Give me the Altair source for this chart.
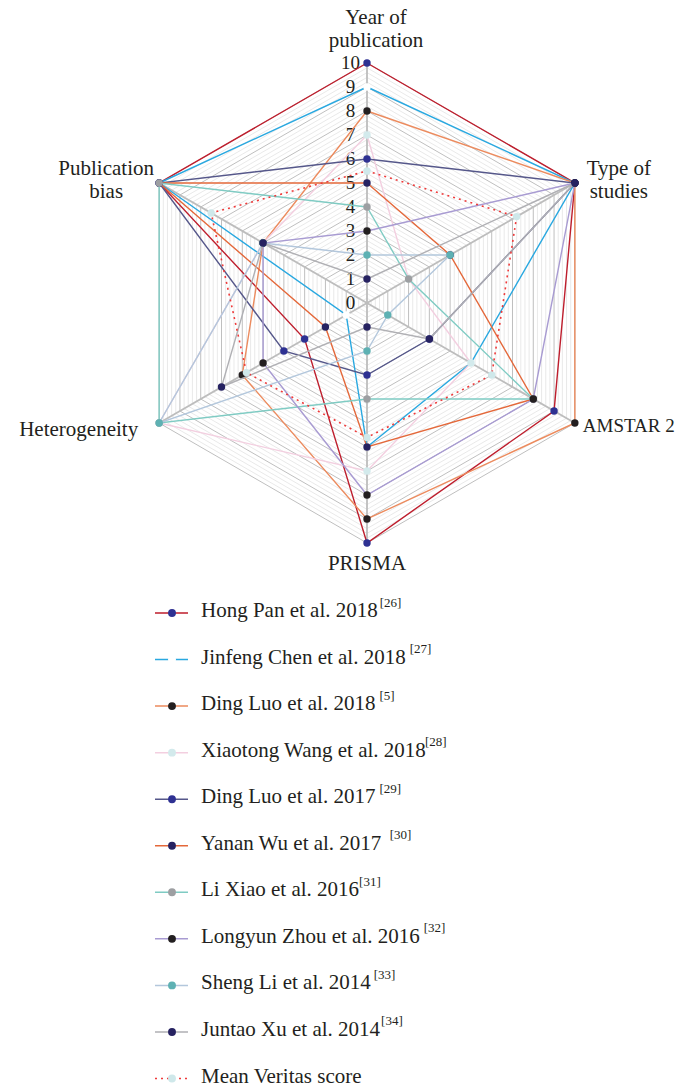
import altair as alt
import pandas as pd

# ---------------- data ----------------
AXIS_LABELS = ["Year of\npublication", "Type of\nstudies", "AMSTAR 2", "PRISMA",
               "Heterogeneity", "Publication\nbias"]
STUDIES = ["Hong Pan et al. 2018", "Jinfeng Chen et al. 2018", "Ding Luo et al. 2018",
           "Xiaotong Wang et al. 2018", "Ding Luo et al. 2017", "Yanan Wu et al. 2017",
           "Li Xiao et al. 2016", "Longyun Zhou et al. 2016", "Sheng Li et al. 2014",
           "Juntao Xu et al. 2014", "Mean Veritas score"]
REFS = ["26", "27", "5", "28", "29", "30", "31", "32", "33", "34", ""]

# values per axis: Year, Type, AMSTAR 2, PRISMA, Heterogeneity, Publication bias
HONG_PAN = [10, 10, 9, 10, 3, 10]
JINFENG_CHEN = [9, 10, 5, 6, 1, 10]
DING_LUO_2018 = [8, 10, 10, 9, 6, 5]
XIAOTONG_WANG = [7, 2, 5, 7, 10, 5]
DING_LUO_2017 = [6, 10, 3, 3, 4, 10]
YANAN_WU = [5, 4, 8, 6, 2, 10]
LI_XIAO = [4, 2, 8, 4, 10, 10]
LONGYUN_ZHOU = [3, 10, 8, 8, 5, 5]
SHENG_LI = [2, 4, 1, 2, 10, 5]
JUNTAO_XU = [1, 10, 3, 1, 7, 5]
MEAN_VERITAS = [5.5, 7.2, 6.0, 5.6, 5.8, 7.5]
SERIES = [HONG_PAN, JINFENG_CHEN, DING_LUO_2018, XIAOTONG_WANG, DING_LUO_2017, YANAN_WU,
          LI_XIAO, LONGYUN_ZHOU, SHENG_LI, JUNTAO_XU, MEAN_VERITAS]
TICKS = list(range(0, 11))

# ---------------- styles ----------------
LINE_COLORS = ["#be1e2d", "#29a8e0", "#ec8b5e", "#f3cfe0", "#55578a", "#e4683a",
               "#7fcbc3", "#a89bd2", "#b3c7dc", "#b0b0b4", "#ee3a3a"]
MARKER_COLORS = ["#2e3192", "#ffffff", "#231f20", "#d3eaec", "#2e3192", "#262261",
                 "#9d9fa2", "#231f20", "#5eb1b3", "#262261", "#cfe8ea"]
SUP_GAP = [2, 4, 4, -3, 4, 5, 0, 4, 3, 1, 0]   # extra spacing before superscripts (px)
FONT = "Liberation Serif"
TEXT_COLOR = "#231f20"
W, H = 670, 1075
CX, CY, UNIT = 359, 295, 24.0      # centre of the radar in plot pixels, px per unit
ROW0, ROWSTEP = 605, 46.55         # legend rows in plot pixels

LABEL_STYLE = [
    dict(align="center", dx=9, dy=-39.5, fontSize=21),
    dict(align="center", dx=44, dy=-8, fontSize=21),
    dict(align="left", dx=8, dy=9, fontSize=19),
    dict(align="center", dx=0, dy=27, fontSize=21),
    dict(align="right", dx=-21, dy=13, fontSize=21),
    dict(align="center", dx=-53, dy=-8, fontSize=21),
]

xs = alt.Scale(domain=[-CX / UNIT, (W - CX) / UNIT], nice=False, zero=False)
ys = alt.Scale(domain=[(CY - H) / UNIT, CY / UNIT], nice=False, zero=False)
X = alt.X("x:Q", scale=xs, axis=None)
Y = alt.Y("y:Q", scale=ys, axis=None)

def polar(chart, r="value"):
    return chart.transform_calculate(
        x=f"datum.{r} * sin(datum.k * PI / 3)",
        y=f"datum.{r} * cos(datum.k * PI / 3)",
    )

# ---------------- grid ----------------
grid_rows = []
for i in range(1, 51):
    lev = round(i * 0.2, 2)
    for k in range(7):
        grid_rows.append(dict(level=lev, major=abs(lev - round(lev)) < 1e-9, k=k, value=lev))
grid_df = pd.DataFrame(grid_rows)

grid_minor = polar(alt.Chart(grid_df).transform_filter("!datum.major")).mark_line(
    color="#dadada", strokeWidth=0.6).encode(x=X, y=Y, detail="level:N", order="k:Q")
grid_major = polar(alt.Chart(grid_df).transform_filter("datum.major")).mark_line(
    color="#bfbfbf", strokeWidth=1).encode(x=X, y=Y, detail="level:N", order="k:Q")

spoke_df = pd.DataFrame({"k": list(range(6)), "value": [10] * 6})
spokes = alt.Chart(spoke_df).transform_calculate(
    x0="0", y0="0",
    x="datum.value * sin(datum.k * PI / 3)",
    y="datum.value * cos(datum.k * PI / 3)",
).mark_rule(color="#bdbdbd", strokeWidth=1.8).encode(
    x=alt.X("x0:Q", scale=xs, axis=None), y=alt.Y("y0:Q", scale=ys, axis=None),
    x2="x:Q", y2="y:Q")

tick_df = pd.DataFrame({"t": TICKS})
ticks = alt.Chart(tick_df).transform_calculate(x="0", y="datum.t", lab="'' + datum.t").mark_text(
    align="center", baseline="middle", dx=-16.5, fontSize=19, font=FONT, color=TEXT_COLOR
).encode(x=X, y=Y, text="lab:N")

layers = [grid_minor, grid_major, spokes, ticks]

# ---------------- series ----------------
rows = []
for s, (name, vals) in enumerate(zip(STUDIES, SERIES)):
    for k in range(7):
        rows.append(dict(series=name, s=s, k=k, value=vals[k % 6]))
df = pd.DataFrame(rows)

for s in range(len(STUDIES)):
    base = polar(alt.Chart(df).transform_filter(alt.datum.s == s))
    line_kw = dict(color=LINE_COLORS[s], strokeWidth=1.4)
    if s == len(STUDIES) - 1:
        line_kw.update(strokeDash=[2, 4], strokeWidth=1.6)
    layers.append(base.mark_line(**line_kw).encode(x=X, y=Y, order="k:Q"))
    layers.append(base.transform_filter(alt.datum.k < 6).mark_point(
        filled=True, shape="circle", size=55, opacity=1, color=MARKER_COLORS[s]
    ).encode(x=X, y=Y))

# ---------------- axis labels ----------------
lab_df = pd.DataFrame({"k": list(range(6)), "label": AXIS_LABELS, "value": [10] * 6})
for k, st in enumerate(LABEL_STYLE):
    layers.append(polar(alt.Chart(lab_df).transform_filter(alt.datum.k == k)).mark_text(
        baseline="alphabetic", font=FONT, color=TEXT_COLOR,
        lineBreak="\n", lineHeight=23, **st
    ).encode(x=X, y=Y, text="label:N"))

# ---------------- legend ----------------
TW = {' ': 250, '.': 250, 'a': 444, 'c': 444, 'e': 444, 'f': 333, 'g': 500, 'h': 500,
      'i': 278, 'l': 278, 'n': 500, 'o': 500, 'r': 333, 's': 389, 't': 278, 'u': 500,
      'w': 722, 'y': 500, 'C': 667, 'D': 722, 'H': 722, 'J': 389, 'L': 611, 'M': 889,
      'P': 556, 'S': 556, 'V': 722, 'W': 944, 'X': 722, 'Y': 722, 'Z': 611}

def text_width(txt, size):
    return sum(TW.get(c, 500) for c in txt) * size / 1000.0

leg_df = pd.DataFrame({
    "row": list(range(len(STUDIES))),
    "name": STUDIES,
    "sup": ["[" + r + "]" if r else "" for r in REFS],
    "supx": [193 + text_width(n, 21) + g for n, g in zip(STUDIES, SUP_GAP)],
})
LY = alt.Y("row:Q", scale=alt.Scale(domain=[-ROW0 / ROWSTEP, (H - ROW0) / ROWSTEP],
                                     reverse=True, nice=False, zero=False), axis=None)
lc = alt.Color("name:N", scale=alt.Scale(domain=STUDIES, range=LINE_COLORS), legend=None)
mc = alt.Color("name:N", scale=alt.Scale(domain=STUDIES, range=MARKER_COLORS), legend=None)

leg = alt.Chart(leg_df)
layers.append(leg.mark_rule(strokeWidth=1.5).encode(
    x=alt.value(147), x2=alt.value(180), y=LY, color=lc,
    strokeDash=alt.condition(alt.datum.row == len(STUDIES) - 1, alt.value([2, 4]), alt.value([1, 0]))))
layers.append(leg.mark_point(filled=True, shape="circle", size=62, opacity=1).encode(
    x=alt.value(164), y=LY, color=mc))
layers.append(leg.mark_text(align="left", baseline="alphabetic", dy=4, fontSize=21,
                            font=FONT, color=TEXT_COLOR).encode(
    x=alt.value(193), y=LY, text="name:N"))
layers.append(leg.transform_filter("datum.sup != ''").mark_text(
    align="left", baseline="alphabetic", dy=-6.5, fontSize=13, font=FONT, color=TEXT_COLOR
).encode(x=alt.X("supx:Q", scale=alt.Scale(domain=[0, W], nice=False, zero=False), axis=None),
         y=LY, text="sup:N"))

chart = alt.layer(*layers).resolve_scale(
    x="independent", y="independent", color="independent"
).properties(
    width=W, height=H, autosize=alt.AutoSizeParams(type="none"), padding=0
).configure_view(stroke=None)

chart.save("out.html", embed_options={"renderer": "svg", "actions": False})
